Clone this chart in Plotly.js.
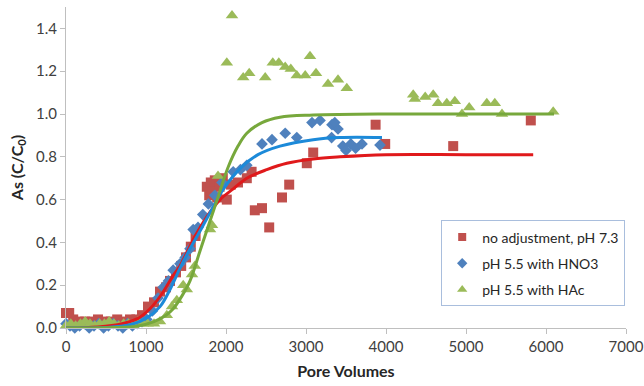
<!DOCTYPE html>
<html>
<head>
<meta charset="utf-8">
<script src="https://cdn.plot.ly/plotly-3.0.1.min.js"></script>
<style>html,body{margin:0;padding:0;background:#fff;}#chart{width:644px;height:386px;}</style>
</head>
<body>
<div id="chart"></div>
<script>
// Measured data: no adjustment, pH 7.3
const redX = [0, 40, 90, 160, 240, 320, 400, 480, 560, 640, 720, 800, 880, 950, 1025, 1100, 1175, 1250, 1300, 1375, 1440, 1500, 1560, 1620, 1760, 1790, 1810, 1830, 1860, 1890, 1920, 1960, 2010, 2060, 2150, 2260, 2320, 2360, 2450, 2540, 2700, 2790, 3010, 3090, 3870, 3990, 4840, 5810];
const redY = [0.07, 0.07, 0.04, 0.03, 0.03, 0.03, 0.04, 0.03, 0.03, 0.04, 0.03, 0.04, 0.04, 0.06, 0.10, 0.12, 0.17, 0.19, 0.22, 0.26, 0.29, 0.33, 0.38, 0.43, 0.66, 0.62, 0.68, 0.64, 0.69, 0.61, 0.66, 0.70, 0.60, 0.67, 0.68, 0.70, 0.73, 0.55, 0.56, 0.47, 0.61, 0.67, 0.77, 0.82, 0.95, 0.86, 0.85, 0.97];

// pH 5.5 with HNO3
const blueX = [0, 50, 110, 170, 230, 290, 350, 410, 470, 530, 590, 650, 710, 770, 830, 890, 950, 1010, 1080, 1150, 1215, 1280, 1340, 1425, 1490, 1550, 1590, 1650, 1710, 1780, 1860, 1950, 2090, 2180, 2260, 2450, 2575, 2740, 2885, 3075, 3175, 3320, 3325, 3360, 3400, 3460, 3500, 3560, 3620, 3700, 3925];
const blueY = [0.02, 0.01, 0.0, 0.01, 0.02, 0.0, 0.01, 0.02, 0.0, 0.01, 0.02, 0.01, 0.0, 0.02, 0.01, 0.02, 0.03, 0.04, 0.08, 0.14, 0.19, 0.22, 0.27, 0.30, 0.33, 0.37, 0.46, 0.47, 0.53, 0.58, 0.62, 0.68, 0.73, 0.74, 0.76, 0.86, 0.88, 0.91, 0.89, 0.96, 0.97, 0.89, 0.95, 0.96, 0.93, 0.85, 0.83, 0.86, 0.84, 0.86, 0.855];

// pH 5.5 with HAc
const greenX = [0, 60, 120, 180, 240, 300, 360, 420, 480, 540, 600, 660, 720, 780, 840, 900, 960, 1020, 1100, 1175, 1260, 1325, 1385, 1465, 1510, 1575, 1610, 1800, 1825, 1900, 2010, 2075, 2215, 2290, 2490, 2585, 2660, 2740, 2810, 2885, 2990, 3050, 3125, 3275, 3400, 3510, 4340, 4360, 4490, 4590, 4650, 4760, 4860, 4950, 5040, 5260, 5360, 5450, 6090];
const greenY = [0.01, 0.02, 0.01, 0.02, 0.03, 0.02, 0.01, 0.02, 0.02, 0.03, 0.02, 0.01, 0.02, 0.02, 0.01, 0.03, 0.02, 0.02, 0.02, 0.03, 0.06, 0.10, 0.13, 0.20, 0.18, 0.25, 0.29, 0.46, 0.48, 0.71, 1.24, 1.46, 1.17, 1.19, 1.17, 1.24, 1.24, 1.22, 1.21, 1.18, 1.18, 1.27, 1.19, 1.14, 1.16, 1.12, 1.09, 1.07, 1.08, 1.09, 1.05, 1.05, 1.06, 1.00, 1.03, 1.05, 1.05, 1.00, 1.01];

// Fitted curves
const redCurveX = [0, 400, 700, 900, 1050, 1200, 1340, 1425, 1600, 1760, 1925, 2090, 2260, 2510, 2760, 3090, 3425, 4000, 5000, 5840];
const redCurveY = [0.0, 0.005, 0.02, 0.045, 0.09, 0.16, 0.245, 0.29, 0.42, 0.52, 0.60, 0.65, 0.70, 0.74, 0.77, 0.79, 0.80, 0.81, 0.81, 0.81];
const blueCurveX = [0, 500, 800, 1000, 1175, 1300, 1425, 1550, 1700, 1840, 1960, 2175, 2400, 2675, 3090, 3425, 3950];
const blueCurveY = [0.0, 0.002, 0.015, 0.045, 0.10, 0.18, 0.28, 0.37, 0.47, 0.565, 0.645, 0.745, 0.81, 0.85, 0.88, 0.89, 0.89];
const greenCurveX = [0, 600, 900, 1100, 1250, 1340, 1450, 1550, 1675, 1800, 1890, 2025, 2150, 2260, 2450, 2675, 3090, 4000, 5000, 6100];
const greenCurveY = [0.0, 0.002, 0.01, 0.03, 0.06, 0.09, 0.15, 0.22, 0.36, 0.50, 0.60, 0.75, 0.85, 0.91, 0.96, 0.985, 0.995, 1.0, 1.0, 1.0];

const seriesNames = ["no adjustment, pH 7.3", "pH 5.5 with HNO3", "pH 5.5 with HAc"];
const xTicks = [0, 1000, 2000, 3000, 4000, 5000, 6000, 7000];
const yTicks = [0.0, 0.2, 0.4, 0.6, 0.8, 1.0, 1.2, 1.4];

const FONT = "Lato, 'Liberation Sans', Arial, sans-serif";
const COLORS = ['#C0504D', '#4F81BD', '#9BBB59'];
const SYMBOLS = ['square', 'diamond', 'triangle-up'];

const traces = [
  {x: redX, y: redY, name: seriesNames[0], type: 'scatter', mode: 'markers', showlegend: false, cliponaxis: false,
   marker: {symbol: SYMBOLS[0], size: 10, color: COLORS[0], line: {width: 0}}},
  {x: blueX, y: blueY, name: seriesNames[1], type: 'scatter', mode: 'markers', showlegend: false, cliponaxis: false,
   marker: {symbol: SYMBOLS[1], size: 9, color: COLORS[1], line: {width: 0}}},
  {x: greenX, y: greenY, name: seriesNames[2], type: 'scatter', mode: 'markers', showlegend: false, cliponaxis: false,
   marker: {symbol: SYMBOLS[2], size: 11, color: COLORS[2], line: {width: 0}}},
  {x: redCurveX, y: redCurveY, type: 'scatter', mode: 'lines', showlegend: false, hoverinfo: 'skip',
   line: {color: '#E0191B', width: 3, shape: 'spline', smoothing: 1}},
  {x: blueCurveX, y: blueCurveY, type: 'scatter', mode: 'lines', showlegend: false, hoverinfo: 'skip',
   line: {color: '#1C8AD9', width: 3, shape: 'spline', smoothing: 1}},
  {x: greenCurveX, y: greenCurveY, type: 'scatter', mode: 'lines', showlegend: false, hoverinfo: 'skip',
   line: {color: '#77A83C', width: 3, shape: 'spline', smoothing: 1}}
];
// legend-only entries with smaller symbols (as in the reference legend)
const legendSizes = [8, 8, 9];
seriesNames.forEach((n, i) => {
  traces.push({x: [null], y: [null], name: n, type: 'scatter', mode: 'markers', legendgroup: 'g' + i,
    marker: {symbol: SYMBOLS[i], size: legendSizes[i], color: COLORS[i]}});
});

const layout = {
  width: 644, height: 386,
  margin: {l: 66, r: 18, t: 7, b: 58},
  paper_bgcolor: '#ffffff', plot_bgcolor: '#ffffff',
  font: {family: FONT, color: '#404040', size: 15},
  showlegend: true,
  legend: {
    x: 0.67, y: 0.335, xanchor: 'left', yanchor: 'top',
    bgcolor: '#ffffff', bordercolor: '#A9BEDD', borderwidth: 1,
    font: {family: FONT, size: 14, color: '#262626'},
    tracegroupgap: 5, itemsizing: 'trace', itemwidth: 30
  },
  xaxis: {
    range: [0, 7000], tickvals: xTicks, ticktext: xTicks.map(String),
    showgrid: false, zeroline: false, showline: true, linecolor: '#BFBFBF', linewidth: 1,
    ticks: 'outside', ticklen: 5, tickcolor: '#BFBFBF',
    tickfont: {family: FONT, size: 15, color: '#404040'},
    title: {text: 'Pore Volumes', font: {family: FONT, size: 16, color: '#262626', weight: 'bold'}, standoff: 11}
  },
  yaxis: {
    range: [0, 1.5], tickvals: yTicks, ticktext: yTicks.map(v => v.toFixed(1)),
    showgrid: false, zeroline: false, showline: true, linecolor: '#BFBFBF', linewidth: 1,
    ticks: 'outside', ticklen: 5, tickcolor: '#BFBFBF',
    tickfont: {family: FONT, size: 15, color: '#404040'},
    title: {text: 'As (C/C<sub>0</sub>)', font: {family: FONT, size: 16, color: '#262626', weight: 'bold'}, standoff: 8}
  }
};

Plotly.newPlot('chart', traces, layout, {displayModeBar: false, staticPlot: true});
</script>
</body>
</html>
